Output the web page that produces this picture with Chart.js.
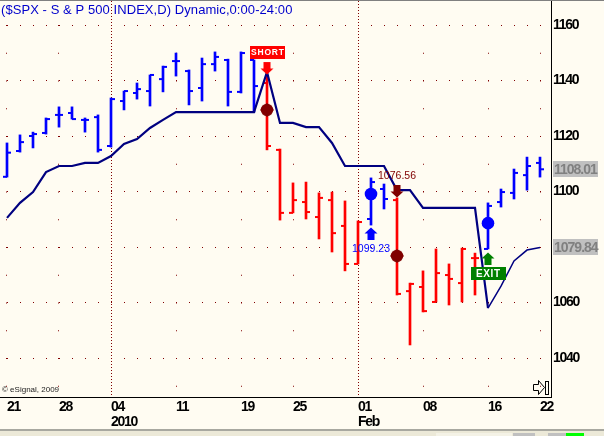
<!DOCTYPE html>
<html>
<head>
<meta charset="utf-8">
<title>$SPX</title>
<script src="https://cdn.jsdelivr.net/npm/chart.js@4"></script>
<style>
  html, body { margin: 0; padding: 0; background: #fffcf2; }
  canvas { display: block; }
</style>
</head>
<body>
<canvas id="chart" width="604" height="436"></canvas>
<script>
const barOpen = [1105.3,1114.6,1120.0,1121.1,1127.6,1128.3,1125.8,1126.8,1116.4,1132.6,1135.5,1136.2,1140.5,1147.0,1143.4,1137.3,1145.9,1147.4,1135.9,1147.4,1139.1,1115.0,1092.3,1096.2,1090.8,1096.9,1087.6,1073.9,1090.1,1100.9,1096.9,1064.1,1065.6,1060.2,1069.9,1067.0,1076.0,1079.3,1096.2,1099.5,1105.9,1110.3];
const barHigh = [1117.5,1120.4,1121.4,1126.5,1130.5,1130.5,1126.5,1127.6,1133.7,1136.2,1139.1,1142.0,1145.2,1149.9,1143.8,1148.1,1150.3,1147.7,1150.3,1147.4,1141.6,1115.3,1103.1,1103.4,1099.5,1099.8,1096.6,1089.4,1104.9,1102.7,1097.7,1067.0,1071.4,1079.3,1073.9,1079.6,1077.8,1095.9,1100.9,1108.1,1112.4,1112.4];
const barLow = [1105.2,1114.2,1115.7,1120.7,1123.2,1126.1,1121.4,1114.2,1116.0,1129.4,1133.3,1130.8,1135.9,1141.6,1131.2,1132.6,1143.4,1130.8,1135.5,1128.6,1115.0,1089.7,1092.3,1090.1,1082.9,1078.2,1071.4,1073.9,1087.9,1093.7,1062.7,1044.7,1056.6,1060.2,1059.1,1060.2,1062.7,1079.3,1094.4,1097.3,1100.5,1105.2];
const barClose = [1114.0,1117.8,1120.7,1126.1,1127.6,1126.1,1125.8,1115.0,1133.3,1136.2,1136.9,1142.0,1144.9,1147.0,1136.2,1145.9,1148.5,1135.9,1149.9,1138.0,1116.4,1092.3,1096.9,1092.6,1097.7,1085.0,1073.9,1089.0,1103.4,1097.3,1063.1,1066.7,1056.9,1070.6,1068.5,1079.3,1076.0,1094.8,1099.8,1106.7,1109.2,1108.01];
const stopLine = [1090.5,1095.9,1099.8,1107.0,1109.2,1109.2,1110.3,1110.3,1112.8,1117.1,1118.9,1122.9,1125.8,1128.6,1128.6,1128.6,1128.6,1128.6,1128.6,1128.6,1143.1,1124.7,1124.7,1123.2,1123.2,1117.5,1109.2,1109.2,1109.2,1109.2,1100.5,1100.5,1094.1,1094.1,1094.1,1094.1,1094.1,1058.0,1065.9,1075.0,1078.9,1079.84];

// bars drawn red, first and last index of each run
const shortRuns = [[20, 27], [30, 36]];

const tickIndex = [0, 4, 8, 13, 18, 22, 27, 32, 37, 41];
const tickLabels = [['21'], ['28'], ['04', '2010'], ['11'], ['19'], ['25'], ['01', 'Feb'], ['08'], ['16'], ['22']];
const monthStarts = [8, 27];

const longDots = [[28, 1099.1], [37, 1088.6]];
const shortDots = [[20, 1129.4], [30, 1076.8]];
const shortArrow = [[20, 1144.5]];
const coverArrow = [[30, 1100.2]];
const longArrow = [[28, 1084.7]];
const exitArrow = [[37, 1075.7]];

const lastClose = 1108.01;
const lastStop = 1079.84;

const RED = '#ff0000', BLUE = '#0000ff', NAVY = '#000080', MAROON = '#800000', GREEN = '#008000';
const AXIS_FONT = '"Liberation Sans", sans-serif';

const isShort = i => shortRuns.some(r => i >= r[0] && i <= r[1]);
const barColor = i => isShort(i) ? RED : BLUE;
const pts = rows => rows.map(r => ({ x: r[0], y: r[1] }));
const series = arr => arr.map((v, i) => ({ x: i, y: v }));

function stamp(draw) {
  const c = document.createElement('canvas');
  c.width = 14;
  c.height = 14;
  draw(c.getContext('2d'));
  return c;
}

function arrowStamp(color, up) {
  return stamp(g => {
    if (!up) { g.translate(0, 14); g.scale(1, -1); }
    g.fillStyle = color;
    g.beginPath();
    g.moveTo(7, 0.5);
    g.lineTo(13.5, 6.5);
    g.lineTo(10.5, 6.5);
    g.lineTo(10.5, 13);
    g.lineTo(3.5, 13);
    g.lineTo(3.5, 6.5);
    g.lineTo(0.5, 6.5);
    g.closePath();
    g.fill();
  });
}

const diamondStamp = stamp(g => {
  g.fillStyle = MAROON;
  g.beginPath();
  g.arc(7, 7, 6.2, 0, Math.PI * 2);
  g.fill();
  g.beginPath();
  g.moveTo(7, 0);
  g.lineTo(14, 7);
  g.lineTo(7, 14);
  g.lineTo(0, 7);
  g.closePath();
  g.fill();
});

function markerSet(data, style, extra) {
  return Object.assign({
    type: 'line', data: pts(data), showLine: false, order: 1,
    pointStyle: style, pointRadius: 7, pointHoverRadius: 7
  }, extra);
}

function tag(ctx, text, right, yPix, box, fg) {
  ctx.fillStyle = box;
  ctx.fillRect(right, Math.round(yPix) - 8, 45, 16);
  ctx.fillStyle = fg;
  ctx.font = 'bold 14px ' + AXIS_FONT;
  ctx.letterSpacing = '-1px';
  ctx.textAlign = 'left';
  ctx.textBaseline = 'middle';
  ctx.fillText(text, right + 1, yPix + 1);
  ctx.letterSpacing = '0px';
}

function badge(ctx, text, x, y, w, h, fill, font, textX, spacing) {
  ctx.fillStyle = fill;
  ctx.fillRect(x, y, w, h);
  ctx.fillStyle = '#ffffff';
  ctx.font = font;
  ctx.letterSpacing = spacing;
  ctx.textAlign = 'left';
  ctx.textBaseline = 'middle';
  ctx.fillText(text, textX, y + h / 2 + 0.5);
  ctx.letterSpacing = '0px';
}

const decorations = {
  id: 'decorations',
  beforeDraw(chart) {
    // axis numbers in the reference are narrower than any installed bold face
    chart.ctx.letterSpacing = '-1.3px';
  },
  afterDraw(chart) {
    const ctx = chart.ctx, xs = chart.scales.x, ys = chart.scales.y;
    ctx.letterSpacing = '0px';
    ctx.save();

    // title and credit
    ctx.fillStyle = '#0000cc';
    ctx.font = '13px "Liberation Sans", sans-serif';
    ctx.letterSpacing = '0.07px';
    ctx.textAlign = 'left';
    ctx.textBaseline = 'middle';
    ctx.fillText('($SPX - S & P 500 INDEX,D) Dynamic,0:00-24:00', 1, 10);
    ctx.letterSpacing = '0px';
    ctx.fillStyle = '#222222';
    ctx.font = '8px "Liberation Sans", sans-serif';
    ctx.fillText('\u00a9 eSignal, 2009', 2, 390);

    // signal badges and prices
    const shortX = Math.round(xs.getPixelForValue(20));
    const exitX = Math.round(xs.getPixelForValue(37));
    badge(ctx, 'SHORT', shortX - 17, 46, 35, 13, RED, 'bold 8.5px "Liberation Sans", sans-serif', shortX - 16, '0.8px');
    badge(ctx, 'EXIT', exitX - 17, 267, 35, 13, GREEN, 'bold 10px "Liberation Sans", sans-serif', exitX - 12, '0.6px');
    ctx.font = '10.5px "Liberation Sans", sans-serif';
    ctx.textAlign = 'center';
    ctx.fillStyle = MAROON;
    ctx.fillText('1076.56', xs.getPixelForValue(30), 176);
    ctx.fillStyle = BLUE;
    ctx.fillText('1099.23', xs.getPixelForValue(28), 249);

    // last value tags on the price axis
    tag(ctx, '1108.01', 553, ys.getPixelForValue(lastClose), '#c0c0c0', '#808080');
    tag(ctx, '1079.84', 553, ys.getPixelForValue(lastStop), '#c0c0c0', '#808080');

    // scroll to end button
    ctx.strokeStyle = '#000000';
    ctx.lineWidth = 1;
    ctx.beginPath();
    ctx.moveTo(533.5, 384.5);
    ctx.lineTo(538.5, 384.5);
    ctx.lineTo(538.5, 380.5);
    ctx.lineTo(544.5, 387.5);
    ctx.lineTo(538.5, 394.5);
    ctx.lineTo(538.5, 390.5);
    ctx.lineTo(533.5, 390.5);
    ctx.closePath();
    ctx.stroke();
    ctx.strokeRect(545.5, 381.5, 3, 13);

    // window frame
    ctx.fillStyle = '#808080';
    ctx.fillRect(0, 0, 604, 1);
    ctx.fillStyle = '#a8a8a0';
    ctx.fillRect(0, 429, 604, 2);
    ctx.fillStyle = '#ece9d8';
    ctx.fillRect(0, 431, 604, 5);
    ctx.fillStyle = '#f4f2e6';
    ctx.fillRect(436, 433, 76, 3);
    ctx.fillStyle = '#c0c0c0';
    ctx.fillRect(513, 433, 22, 3);
    ctx.fillRect(548, 433, 18, 3);
    ctx.fillStyle = '#00ff00';
    ctx.fillRect(566, 433, 18, 3);
    ctx.restore();
  }
};

new Chart(document.getElementById('chart'), {
  type: 'bar',
  data: {
    datasets: [
      {
        data: barHigh.map((h, i) => ({ x: i, y: [barLow[i], h] })),
        backgroundColor: barHigh.map((h, i) => barColor(i)),
        barThickness: 2,
        order: 5
      },
      {
        type: 'line', data: series(barOpen), showLine: false, order: 4,
        pointStyle: 'dash', rotation: 180, pointRadius: 4, pointBorderWidth: 2,
        pointBorderColor: barOpen.map((v, i) => barColor(i))
      },
      {
        type: 'line', data: series(barClose), showLine: false, order: 4,
        pointStyle: 'dash', rotation: 0, pointRadius: 4, pointBorderWidth: 2,
        pointBorderColor: barClose.map((v, i) => barColor(i))
      },
      {
        type: 'line', data: series(stopLine), order: 3, borderColor: NAVY, borderWidth: 2.2,
        pointRadius: 0, tension: 0,
        segment: { borderWidth: c => c.p0DataIndex >= 37 ? 1.5 : 2.2 }
      },
      markerSet(longDots, 'circle', { pointRadius: 6.3, backgroundColor: BLUE, borderColor: BLUE, pointBorderWidth: 0 }),
      markerSet(shortDots, diamondStamp),
      markerSet(shortArrow, arrowStamp(RED, false)),
      markerSet(coverArrow, arrowStamp(MAROON, false)),
      markerSet(longArrow, arrowStamp(BLUE, true)),
      markerSet(exitArrow, arrowStamp(GREEN, true))
    ]
  },
  options: {
    responsive: false,
    animation: false,
    layout: { autoPadding: false, padding: { top: 1, bottom: 5, left: 0, right: 0 } },
    plugins: { legend: { display: false }, tooltip: { enabled: false }, title: { display: false } },
    scales: {
      x: {
        type: 'linear',
        offset: false,
        min: -7 / 13,
        max: 544 / 13,
        afterBuildTicks: s => { s.ticks = tickIndex.map(v => ({ value: v })); },
        afterFit: s => { s.height = 34; s.paddingLeft = 0; s.paddingRight = 0; },
        ticks: {
          autoSkip: false,
          maxRotation: 0,
          align: 'start',
          padding: 2,
          color: '#000000',
          font: { family: AXIS_FONT, size: 14, weight: 'bold', lineHeight: 1.12 },
          callback: v => tickLabels[tickIndex.indexOf(v)]
        },
        grid: { offset: false, color: MAROON, lineWidth: 1, drawTicks: false },
        border: {
          display: true, color: '#000000', width: 1,
          dash: c => c.tick && monthStarts.includes(c.tick.value) ? [1, 2] : [1, 26.75],
          dashOffset: c => c.tick && monthStarts.includes(c.tick.value) ? 0 : 3.75
        }
      },
      y: {
        position: 'right',
        min: 1025.95,
        max: 1168.65,
        afterFit: s => { s.width = 53; s.paddingTop = 0; s.paddingBottom = 0; },
        ticks: {
          stepSize: 10,
          autoSkip: false,
          padding: 2,
          color: '#000000',
          font: { family: AXIS_FONT, size: 14, weight: 'bold' },
          callback: v => v % 20 === 0 ? String(v) : ''
        },
        grid: {
          color: c => c.tick && c.tick.value % 20 === 0 ? MAROON : 'transparent',
          lineWidth: 1,
          drawTicks: false
        },
        border: { display: true, color: '#000000', width: 1, dash: [1, 12], dashOffset: 6 }
      }
    }
  },
  plugins: [decorations]
});
</script>
</body>
</html>
